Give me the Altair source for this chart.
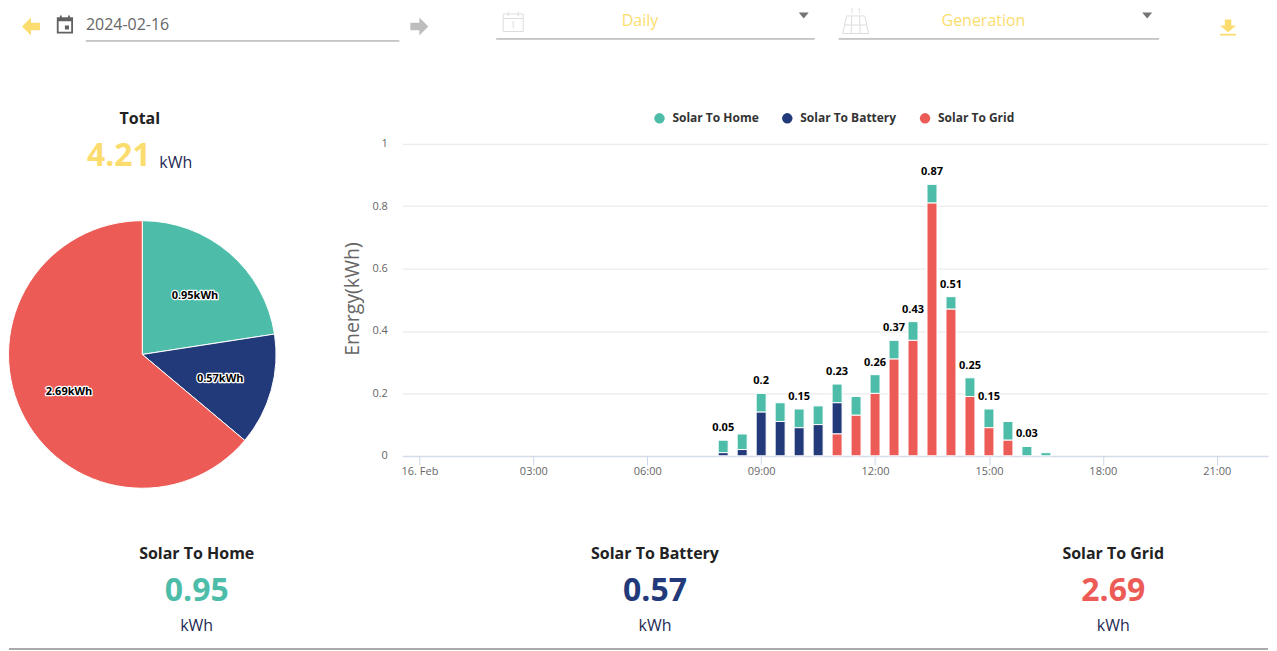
import altair as alt
import pandas as pd

FONT = "Open Sans"
TEAL, NAVY, RED, GOLD = "#4DBDAA", "#223A7A", "#EC5B56", "#FBDD6F"

series = ["Solar To Home", "Solar To Battery", "Solar To Grid"]
series_colors = [TEAL, NAVY, RED]
series_totals = [0.95, 0.57, 2.69]
total_kwh = "4.21"

times = ["08:00", "08:30", "09:00", "09:30", "10:00", "10:30", "11:00", "11:30", "12:00",
         "12:30", "13:00", "13:30", "14:00", "14:30", "15:00", "15:30", "16:00", "16:30"]
home = [0.04, 0.05, 0.06, 0.06, 0.06, 0.06, 0.06, 0.06, 0.06,
        0.06, 0.06, 0.06, 0.04, 0.06, 0.06, 0.06, 0.03, 0.01]
battery = [0.01, 0.02, 0.14, 0.11, 0.09, 0.10, 0.10, 0, 0,
           0, 0, 0, 0, 0, 0, 0, 0, 0]
grid = [0, 0, 0, 0, 0, 0, 0.07, 0.13, 0.20,
        0.31, 0.37, 0.81, 0.47, 0.19, 0.09, 0.05, 0, 0]
labelled_times = ["08:00", "09:00", "10:00", "11:00", "12:00", "12:30", "13:00",
                  "13:30", "14:00", "14:30", "15:00", "16:00"]
tick_times = ["00:00", "03:00", "06:00", "09:00", "12:00", "15:00", "18:00", "21:00"]
y_ticks = [0, 0.2, 0.4, 0.6, 0.8, 1]


def stamp(t):
    return f"2024-02-16T{t}:00"


rows = []
for t, *vals in zip(times, home, battery, grid):
    for i, v in enumerate(vals):
        if v > 0:
            rows.append({"time": stamp(t), "series": series[i], "value": v, "stack": i})
bars_df = pd.DataFrame(rows)

totals = {t: round(a + b + c, 2) for t, a, b, c in zip(times, home, battery, grid)}
labels_df = pd.DataFrame([{"time": stamp(t), "total": totals[t]} for t in labelled_times])
pie_df = pd.DataFrame({"series": series, "value": series_totals, "idx": [0, 1, 2],
                       "label": [f"{v}kWh" for v in series_totals]})

blank = {"values": [{}]}


def text(s, x, y, size=16, color="#333", weight="normal", align="center"):
    return alt.Chart(blank).mark_text(
        font=FONT, fontSize=size, color=color, fontWeight=weight, align=align, baseline="middle"
    ).encode(x=alt.value(x), y=alt.value(y), text=alt.value(s))


def rule(x1, x2, y, color="#949494", w=1):
    return alt.Chart(blank).mark_rule(color=color, strokeWidth=w).encode(
        x=alt.value(x1), x2=alt.value(x2), y=alt.value(y))


def icon(path, x, y, px, fill=None, stroke=None, w=1):
    kw = dict(shape=path, size=px * px, opacity=1)
    if fill:
        kw.update(filled=True, fill=fill, strokeWidth=0)
    else:
        kw.update(filled=False, stroke=stroke, strokeWidth=w)
    return alt.Chart(blank).mark_point(**kw).encode(x=alt.value(x), y=alt.value(y))


ARROW_L = "M-1 0L0 -1L0 -0.42L1 -0.42L1 0.42L0 0.42L0 1Z"
ARROW_R = "M1 0L0 -1L0 -0.42L-1 -0.42L-1 0.42L0 0.42L0 1Z"
CAL = ("M-0.9 -0.8L-0.55 -0.8L-0.55 -1L-0.35 -1L-0.35 -0.8L0.35 -0.8L0.35 -1L0.55 -1L0.55 -0.8L0.9 -0.8"
       "L0.9 1L-0.9 1Z"
       "M-0.7 -0.35L-0.7 0.8L0.7 0.8L0.7 -0.35Z"
       "M0 0.1L0.45 0.1L0.45 0.55L0 0.55Z")
CAL_LIGHT = ("M-1 -0.75L1 -0.75L1 1L-1 1ZM-1 -0.3L1 -0.3M-0.5 -1L-0.5 -0.55M0.5 -1L0.5 -0.55"
             "M0 0L0 0.65M-0.12 0.12L0 0")
PANEL = ("M-1 1L-0.7 -0.35L0.7 -0.35L1 1ZM-0.85 0.35L0.85 0.35M-0.3 -0.35L-0.35 1M0.3 -0.35L0.35 1"
         "M-0.25 -0.55A0.3 0.35 0 1 1 0.25 -0.55")
TRI = "M-1 -0.6L1 -0.6L0 0.6Z"
DOWNLOAD = "M-0.4 -1L0.4 -1L0.4 -0.25L1 -0.25L0 0.6L-1 -0.25L-0.4 -0.25ZM-1 0.8L1 0.8L1 1L-1 1Z"

# page position minus the 8px page margin; everything overflows the first cell freely
top = alt.layer(
    icon(ARROW_L, 22, 18.5, 18, fill=GOLD),
    icon(CAL, 56, 16.5, 18, fill="#616161"),
    text("2024-02-16", 77, 17, 16, "#666", align="left"),
    rule(77, 391, 33),
    icon(ARROW_R, 411, 18.5, 18, fill="#BDBDBD"),
    icon(CAL_LIGHT, 505, 13.5, 20, stroke="#DDDDDD"),
    text("Daily", 632, 13, 16, GOLD),
    icon(TRI, 796, 7.5, 10, fill="#757575"),
    rule(488, 807, 31),
    icon(PANEL, 848, 12.5, 26, stroke="#DDDDDD"),
    text("Generation", 976, 13, 16, GOLD),
    icon(TRI, 1140, 7.5, 10, fill="#757575"),
    rule(831, 1152, 31),
    icon(DOWNLOAD, 1221, 19.5, 16, fill=GOLD),
    text("Total", 131, 111, 16, "#222", "bold"),
    text(total_kwh, 110, 148, 32, GOLD, "bold"),
    text("kWh", 167, 155, 16, "#1F2A55"),
).properties(width=394, height=135.5)

top_right = alt.Chart(blank).mark_text(color="white", opacity=0).encode(
    x=alt.value(0), y=alt.value(0), text=alt.value(" ")
).properties(width=867, height=135.5)

base_pie = alt.Chart(pie_df).encode(
    theta=alt.Theta("value:Q", stack=True),
    order=alt.Order("idx:Q"),
)
CX, CY = 133.5, 211
pie = alt.layer(
    base_pie.mark_arc(outerRadius=134, stroke="white", strokeWidth=1).encode(
        x=alt.value(CX), y=alt.value(CY),
        color=alt.Color("series:N", scale=alt.Scale(domain=series, range=series_colors), legend=None),
    ),
    base_pie.mark_text(radius=81, dy=3, font=FONT, fontSize=11, fontWeight="bold", stroke="white",
                       strokeWidth=2.5, strokeJoin="round", color="white").encode(
        x=alt.value(CX), y=alt.value(CY), text="label:N"),
    base_pie.mark_text(radius=81, dy=3, font=FONT, fontSize=11, fontWeight="bold", color="black").encode(
        x=alt.value(CX), y=alt.value(CY), text="label:N"),
).properties(width=394, height=312.5)

x_scale = alt.Scale(domain=[alt.DateTime(year=2024, month="feb", date=15, hours=23, minutes=33),
                            alt.DateTime(year=2024, month="feb", date=16, hours=22, minutes=21)],
                    padding=0)
y_scale = alt.Scale(domain=[0, 1], nice=False)
tick_vals = [alt.DateTime(year=2024, month="feb", date=16, hours=int(t[:2])) for t in tick_times]
x_enc = alt.X("time:T", scale=x_scale, axis=alt.Axis(
    title=None, values=tick_vals, grid=False, domainColor="#CCD6EB", tickColor="#CCD6EB",
    tickSize=9, labelFont=FONT, labelFontSize=11, labelColor="#666", labelPadding=1,
    labelFlush=False, labelExpr="hours(datum.value)==0 ? '16. Feb' : timeFormat(datum.value,'%H:%M')",
    labelOverlap=False))

bars = alt.Chart(bars_df).mark_bar(width=10, stroke="white", strokeWidth=1).encode(
    x=x_enc,
    y=alt.Y("value:Q", stack=True, scale=y_scale, axis=alt.Axis(
        title="Energy(kWh)", values=y_ticks, format="~g", grid=True, gridColor="#E6E6E6", domain=False,
        ticks=False, labelFont=FONT, labelFontSize=11, labelColor="#666", labelPadding=15,
        titleFont=FONT, titleFontSize=19.5, titleFontWeight="normal", titleColor="#666",
        titleX=-40, titleY=155)),
    order=alt.Order("stack:Q", sort="descending"),
    color=alt.Color("series:N", scale=alt.Scale(domain=series, range=series_colors), legend=alt.Legend(
        title=None, orient="none", legendX=251.5, legendY=-31.5, direction="horizontal", symbolType="circle",
        symbolSize=110, symbolStrokeWidth=0, symbolOpacity=1, labelFont=FONT, labelFontSize=12,
        labelFontWeight="bold", labelColor="#333", labelOffset=7, columnPadding=22)),
)
bar_labels = alt.Chart(labels_df).mark_text(
    font=FONT, fontSize=11, fontWeight="bold", color="black", dy=-12, baseline="middle"
).encode(x=alt.X("time:T", scale=x_scale), y=alt.Y("total:Q", scale=y_scale), text=alt.Text("total:Q", format=".2~f"))
chart_bars = alt.layer(bars, bar_labels).properties(width=867, height=312.5)

# y positions are page position minus 456; x is page position minus 8
bottom_parts = []
for name, value, color, cx in zip(series, series_totals, series_colors, [188, 647, 1106]):
    bottom_parts += [
        text(name, cx, 98, 16, "#222", "bold"),
        text(f"{value}", cx, 135, 32, color, "bold"),
        text("kWh", cx, 170, 16, "#1F2A55"),
    ]
bottom = alt.layer(*bottom_parts, rule(0, 1261, 193, "#AAAAAA", 2)).properties(width=394, height=195)

bottom_right = alt.Chart(blank).mark_text(color="white", opacity=0).encode(
    x=alt.value(0), y=alt.value(0), text=alt.value(" ")
).properties(width=867, height=195)

chart = alt.concat(top, top_right, pie, chart_bars, bottom, bottom_right,
                   columns=2, spacing=0, bounds="flush").resolve_scale(
    color="independent"
).properties(padding={"left": -2, "top": -6.5, "right": 0, "bottom": 0}).configure_view(stroke=None)

chart.save("out.html", embed_options={"renderer": "svg", "actions": False})
